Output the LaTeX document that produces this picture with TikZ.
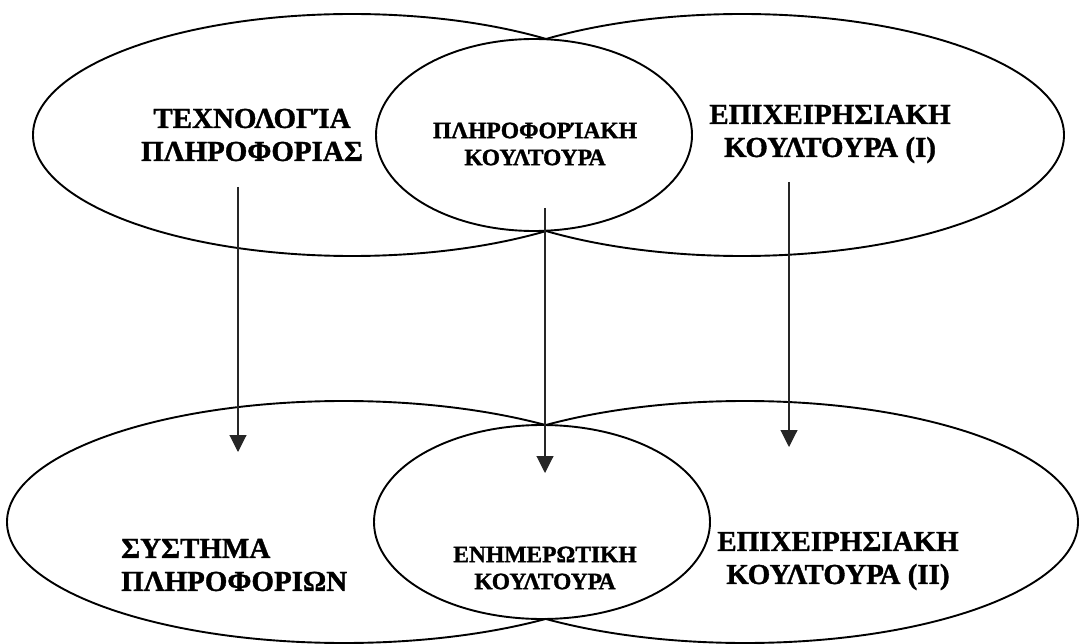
\documentclass[tikz,border=0pt]{standalone}
\usepackage{fontspec}
\setmainfont{Liberation Serif}[BoldFeatures={FakeBold=1.2}]
\usetikzlibrary{arrows.meta}

\begin{document}
\begin{tikzpicture}[
		x=1pt, y=-1pt,
		>={Triangle[length=17pt 0 0, width=17pt 0 0]},
		rimline/.style={line width=1.9pt},
		flowline/.style={->, line width=1.1pt, black!85},
		bigtext/.style={font=\bfseries\fontsize{29}{33}\selectfont, align=center, inner sep=0pt},
		smalltext/.style={font=\bfseries\fontsize{23.5}{27}\selectfont, align=center, inner sep=0pt},
		]
		\useasboundingbox (0,0) rectangle (1079,644);
		
		% Upper cluster: two ellipses meeting on a circle
		\begin{scope}
			\clip (0,0) rectangle (546,300);
			\draw[rimline] (352,135) ellipse [x radius=319, y radius=121];
		\end{scope}
		\begin{scope}
			\clip (546,0) rectangle (1079,300);
			\draw[rimline] (742,135) ellipse [x radius=322, y radius=121];
		\end{scope}
		\draw[rimline] (534,135) ellipse [x radius=158, y radius=96];
		
		% Lower cluster
		\begin{scope}
			\clip (0,300) rectangle (546,644);
			\draw[rimline] (344,522) ellipse [x radius=337, y radius=121];
		\end{scope}
		\begin{scope}
			\clip (546,300) rectangle (1079,644);
			\draw[rimline] (745,522) ellipse [x radius=333, y radius=121];
		\end{scope}
		\draw[rimline] (542,522) ellipse [x radius=168, y radius=97];
		
		% Labels
		\node[bigtext] (techinfo) at (252,135) {ΤΕΧΝΟΛΟΓΊΑ\\ΠΛΗΡΟΦΟΡΙΑΣ};
		\node[smalltext] (infoculture) at (535,144) {ΠΛΗΡΟΦΟΡΊΑΚΗ\\ΚΟΥΛΤΟΥΡΑ};
		\node[bigtext] (bizcultureI) at (830,134) {ΕΠΙΧΕΙΡΗΣΙΑΚΗ\\ΚΟΥΛΤΟΥΡΑ (I)};
		\node[bigtext, align=left, anchor=west] (infosystem) at (121,565) {ΣΥΣΤΗΜΑ\\ΠΛΗΡΟΦΟΡΙΩΝ};
		\node[smalltext] (comculture) at (545,568) {ΕΝΗΜΕΡΩΤΙΚΗ\\ΚΟΥΛΤΟΥΡΑ};
		\node[bigtext] (bizcultureII) at (838,561) {ΕΠΙΧΕΙΡΗΣΙΑΚΗ\\ΚΟΥΛΤΟΥΡΑ (II)};
		
		% Arrow ends
		\coordinate (techout) at (238,187);
		\coordinate (sysin) at (238,452);
		\coordinate (infoout) at (545,208);
		\coordinate (comin) at (545,473);
		\coordinate (bizout) at (789,182);
		\coordinate (bizin) at (789,447);
		
		% Arrows down
		\draw[flowline] (techout) -- (sysin);
		\draw[flowline] (infoout) -- (comin);
		\draw[flowline] (bizout) -- (bizin);
		
	\end{tikzpicture}
\end{document}
